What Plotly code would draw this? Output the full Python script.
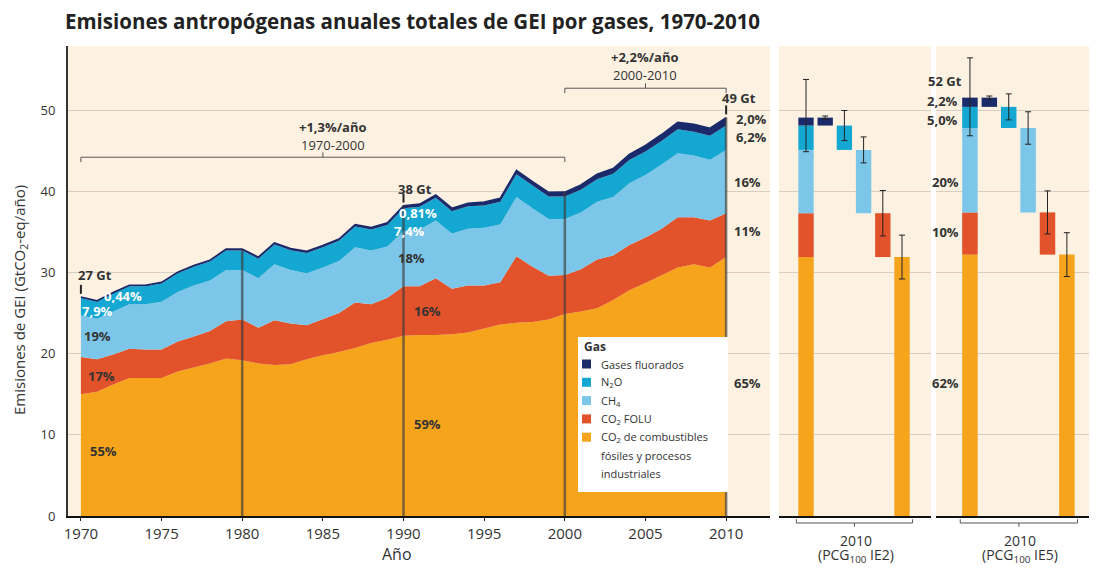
import plotly.graph_objects as go

# --- data (GtCO2-eq/año) ---
years = list(range(1970, 2011))

co2_fosil = [15.0, 15.3, 16.2, 17.0, 17.0, 17.0, 17.8, 18.3, 18.8, 19.4,
             19.2, 18.8, 18.6, 18.7, 19.3, 19.8, 20.2, 20.7, 21.3, 21.7,
             22.2, 22.3, 22.3, 22.4, 22.6, 23.1, 23.6, 23.8, 23.9, 24.2,
             24.9, 25.2, 25.6, 26.6, 27.8, 28.7, 29.6, 30.6, 31.0, 30.6, 31.9]
co2_folu = [4.6, 4.0, 3.7, 3.6, 3.5, 3.5, 3.7, 3.8, 4.0, 4.6,
            5.0, 4.4, 5.5, 5.0, 4.2, 4.5, 4.8, 5.6, 4.8, 5.2,
            6.1, 6.0, 7.0, 5.6, 5.8, 5.3, 5.2, 8.2, 6.8, 5.4,
            4.8, 5.2, 6.0, 5.5, 5.6, 5.6, 5.8, 6.2, 5.8, 5.8, 5.4]
ch4 = [5.1, 5.0, 5.3, 5.5, 5.6, 5.9, 6.1, 6.3, 6.2, 6.3,
       6.1, 6.1, 6.9, 6.6, 6.4, 6.3, 6.4, 6.8, 6.6, 6.3,
       6.8, 7.0, 7.1, 6.8, 7.0, 7.1, 7.1, 7.3, 7.2, 7.0,
       6.9, 7.0, 7.1, 7.2, 7.6, 7.7, 7.9, 7.9, 7.6, 7.5, 7.8]
n2o = [2.15, 2.1, 2.2, 2.2, 2.2, 2.25, 2.3, 2.3, 2.35, 2.4,
       2.4, 2.4, 2.45, 2.45, 2.5, 2.5, 2.5, 2.55, 2.6, 2.65,
       2.8, 2.8, 2.8, 2.75, 2.75, 2.75, 2.8, 2.8, 2.8, 2.75,
       2.75, 2.8, 2.8, 2.85, 2.85, 2.9, 2.9, 2.95, 2.95, 2.95, 3.0]
f_gases = [0.12, 0.12, 0.13, 0.13, 0.13, 0.14, 0.15, 0.16, 0.17, 0.18,
           0.19, 0.2, 0.2, 0.21, 0.22, 0.22, 0.23, 0.24, 0.25, 0.27,
           0.31, 0.33, 0.35, 0.37, 0.39, 0.42, 0.45, 0.48, 0.5, 0.52,
           0.55, 0.58, 0.62, 0.66, 0.7, 0.75, 0.8, 0.85, 0.9, 0.92, 0.98]

# 2010 with two metrics: fossil, FOLU, CH4, N2O, F-gases
ie2_vals = [31.9, 5.4, 7.8, 3.0, 0.98]
ie2_err = [2.7, 2.8, 1.6, 1.85, 0.2]
ie2_total_err = [4.7, 4.2]
ie5_vals = [32.2, 5.2, 10.4, 2.6, 1.14]
ie5_err = [2.7, 2.65, 2.0, 1.6, 0.2]
ie5_total_err = [4.9, 4.7]

legend_lines = [["Gases fluorados"], ["N<sub>2</sub>O"], ["CH<sub>4</sub>"], ["CO<sub>2</sub> FOLU"],
                ["CO<sub>2</sub> de combustibles", "fósiles y procesos", "industriales"]]
colors = ["#f7a41d", "#e2522b", "#7cc6e9", "#13a7d2", "#1b2a6b"]
series = [co2_fosil, co2_folu, ch4, n2o, f_gases]

total = [sum(v) for v in zip(*series)]

# page body has an 8px margin, so the figure is drawn 8px in from the corner
W, H = 1081, 557
ML, MT, MB, MR = 60, 38, 49, 0
PW = W - ML - MR
PH = H - MT - MB
def px(p):  # page x pixel -> paper
    return (p - 8 - ML) / PW
def py(p):  # page y pixel -> paper
    return (H - MB - (p - 8)) / PH

YMAX = 57.9
fig = go.Figure()

# stacked areas
for vals, col in zip(series, colors):
    fig.add_trace(go.Scatter(
        x=years, y=vals, stackgroup="gei", mode="lines",
        line=dict(width=1.5 if col == colors[4] else 0, color=col),
        fillcolor=col, showlegend=False, hoverinfo="skip"))

# right panels: stacked total + floating bars per gas
for xa, ya, vals, errs, terr in [("x2", "y2", ie2_vals, ie2_err, ie2_total_err),
                                  ("x3", "y3", ie5_vals, ie5_err, ie5_total_err)]:
    base = 0
    for i, (v, e, col) in enumerate(zip(vals, errs, colors)):
        last = i == len(vals) - 1
        fig.add_trace(go.Bar(
            x=[0], y=[v], base=[base], width=0.8, marker=dict(color=col, line_width=0),
            xaxis=xa, yaxis=ya, showlegend=False, hoverinfo="skip",
            error_y=dict(type="data", symmetric=False, array=[terr[0]], arrayminus=[terr[1]],
                         color="#222", thickness=1, width=3, visible=last)))
        fig.add_trace(go.Bar(
            x=[5 - i], y=[v], base=[base], width=0.8, marker=dict(color=col, line_width=0),
            xaxis=xa, yaxis=ya, showlegend=False, hoverinfo="skip",
            error_y=dict(type="data", array=[e], color="#222", thickness=1, width=3)))
        base += v

shapes = []
# vertical decade lines
for yr in [1980, 1990, 2000, 2010]:
    shapes.append(dict(type="line", xref="x", yref="y", x0=yr, x1=yr, y0=0,
                       y1=total[years.index(yr)], line=dict(color="rgba(60,60,60,0.65)", width=2.5),
                       layer="above"))
# small ticks above totals
for yr in [1970, 1990, 2010]:
    t = total[years.index(yr)]
    shapes.append(dict(type="line", xref="x", yref="y", x0=yr, x1=yr, y0=t + 0.4, y1=t + 1.5,
                       line=dict(color="#222", width=2), layer="above"))

# growth brackets
def bracket(x0, x1, y, ref="x", yref="y", up=True, d=0.6):
    s = 1 if up else -1
    out = [dict(type="line", xref=ref, yref=yref, x0=x0, x1=x1, y0=y, y1=y),
           dict(type="line", xref=ref, yref=yref, x0=x0, x1=x0, y0=y, y1=y - s * d),
           dict(type="line", xref=ref, yref=yref, x0=x1, x1=x1, y0=y, y1=y - s * d),
           dict(type="line", xref=ref, yref=yref, x0=(x0 + x1) / 2, x1=(x0 + x1) / 2,
                y0=y, y1=y + s * d)]
    for o in out:
        o["line"] = dict(color="#555", width=1)
    return out

shapes += bracket(1970, 2000, 44.2)
shapes += bracket(2000, 2010, 52.7)
shapes += bracket(-0.5, 5.55, py(523), ref="x2", yref="paper", up=False, d=0.008)
shapes += bracket(-0.5, 5.55, py(523), ref="x3", yref="paper", up=False, d=0.008)

annotations = []

def note(x, y, text, size, xanchor="center", **kw):
    annotations.append(dict(x=x, y=y, xref="paper", yref="paper", text=text, showarrow=False,
                            xanchor=xanchor, yanchor="middle",
                            font=dict(size=size, color="#333"), **kw))

# legend box drawn by hand
shapes.append(dict(type="rect", xref="paper", yref="paper", x0=px(578), x1=px(728),
                   y0=py(492), y1=py(337), fillcolor="white", line_width=0, layer="above"))
note(px(582), py(346), "<b>Gas</b>", 12, xanchor="left")
row = 364
for lines, col in zip(legend_lines, colors[::-1]):
    shapes.append(dict(type="rect", xref="paper", yref="paper", x0=px(582), x1=px(591),
                       y0=py(row + 4.5), y1=py(row - 4.5), fillcolor=col, line_width=0,
                       layer="above"))
    for ln in lines:
        note(px(599), py(row), ln, 11, xanchor="left")
        row += 18.3

def lab(x, y, text, xref="x", yref="y", color="#333", size=13, bold=True):
    annotations.append(dict(x=x, y=y, xref=xref, yref=yref, text=f"<b>{text}</b>" if bold else text,
                            showarrow=False, xanchor="center", yanchor="middle",
                            font=dict(size=size, color=color)))

lab(1985.6, 47.9, "+1,3%/año")
lab(1985.6, 45.7, "1970-2000", bold=False)
lab(2005.0, 56.5, "+2,2%/año")
lab(2005.0, 54.3, "2000-2010", bold=False)

lab(1970.9, 29.7, "27 Gt")
lab(1972.6, 27.1, "0,44%", color="white")
lab(1971.0, 25.2, "7,9%", color="white")
lab(1971.0, 22.2, "19%")
lab(1971.3, 17.2, "17%")
lab(1971.4, 8.0, "55%")

lab(1990.7, 40.3, "38 Gt")
lab(1990.9, 37.3, "0,81%", color="white")
lab(1990.4, 35.1, "7,4%", color="white")
lab(1990.5, 31.8, "18%")
lab(1991.5, 25.2, "16%")
lab(1991.5, 11.3, "59%")

lab(2010.8, 51.5, "49 Gt")
lab(2011.6, 48.9, "2,0%")
lab(2011.6, 46.7, "6,2%")
lab(2011.3, 41.1, "16%")
lab(2011.3, 35.1, "11%")
lab(2011.3, 16.4, "65%")

lab(-1.29, 53.6, "52 Gt", xref="x3", yref="y3")
lab(-1.39, 51.1, "2,2%", xref="x3", yref="y3")
lab(-1.39, 48.8, "5,0%", xref="x3", yref="y3")
lab(-1.24, 41.1, "20%", xref="x3", yref="y3")
lab(-1.24, 35.0, "10%", xref="x3", yref="y3")
lab(-1.24, 16.4, "62%", xref="x3", yref="y3")

for xr, tag in [("x2", "IE2"), ("x3", "IE5")]:
    annotations.append(dict(x=2.6, y=py(540), xref=xr, yref="paper", text="2010", yanchor="middle",
                            showarrow=False, font=dict(size=14, color="#333")))
    annotations.append(dict(x=2.6, y=py(555), xref=xr, yref="paper", yanchor="middle",
                            text=f"(PCG<sub>100</sub> {tag})", showarrow=False,
                            font=dict(size=14, color="#333")))

annotations.append(dict(x=1989.6, y=py(554), xref="x", yref="paper", text="Año", yanchor="middle",
                        showarrow=False, font=dict(size=16, color="#333")))
note(px(20), py(300), "Emisiones de GEI (GtCO<sub>2</sub>-eq/año)", 15, textangle=-90)

grid = "rgba(140,140,140,0.35)"
fig.update_layout(
    width=W, height=H,
    margin=dict(l=ML, r=MR, t=MT, b=MB),
    paper_bgcolor="white", plot_bgcolor="#fdf2e1",
    font=dict(family="Open Sans", color="#333"),
    title=dict(text="<b>Emisiones antropógenas anuales totales de GEI por gases, 1970-2010</b>",
               x=57 / W, xanchor="left", y=1 - 14 / H, yanchor="middle",
               font=dict(size=20.5, color="#222")),
    barmode="overlay",
    showlegend=False,
    xaxis=dict(domain=[0, px(770)], range=[1969.2, 2012.72], tickvals=list(range(1970, 2011, 5)),
               ticks="outside", ticklen=3, tickcolor="#222", showline=True, linecolor="#111",
               linewidth=2, showgrid=False, zeroline=False, tickfont=dict(size=15)),
    yaxis=dict(range=[0, YMAX], tickvals=[0, 10, 20, 30, 40, 50], showline=True, linecolor="#333",
               linewidth=2, showgrid=True, gridcolor=grid, zeroline=False, ticks="",
               ticklabelstandoff=8, tickfont=dict(size=13)),
    xaxis2=dict(domain=[px(779), px(931)], range=[-1.406, 6.51], anchor="y2", showticklabels=False,
                showline=True, linecolor="#111", linewidth=2, showgrid=False, zeroline=False),
    yaxis2=dict(range=[0, YMAX], anchor="x2", showticklabels=False, showgrid=True, gridcolor=grid,
                zeroline=False, tickvals=[10, 20, 30, 40, 50]),
    xaxis3=dict(domain=[px(936), 1.0], range=[-1.75, 6.14], anchor="y3", showticklabels=False,
                showline=True, linecolor="#111", linewidth=2, showgrid=False, zeroline=False),
    yaxis3=dict(range=[0, YMAX], anchor="x3", showticklabels=False, showgrid=True, gridcolor=grid,
                zeroline=False, tickvals=[10, 20, 30, 40, 50]),
    shapes=shapes,
    annotations=annotations,
)

fig.write_html("out.html")
